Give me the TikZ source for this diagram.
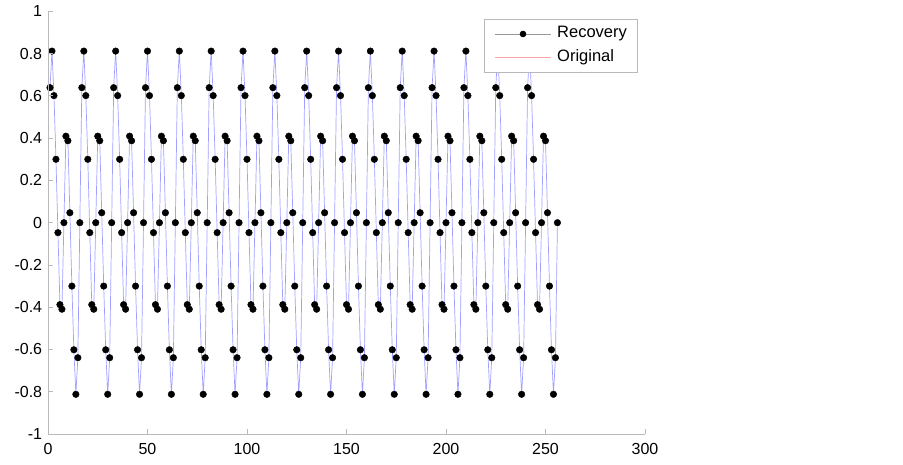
\documentclass[tikz,border=0pt]{standalone}
\usepackage{fontspec}
\setmainfont{Liberation Sans}
\definecolor{axgray}{RGB}{185,185,185}
\definecolor{datablue}{RGB}{160,160,255}
\definecolor{legpink}{RGB}{255,165,165}
\definecolor{leggray}{RGB}{150,150,150}
\begin{document}
\begin{tikzpicture}[x=1pt,y=1pt,
  axisline/.style={draw=axgray, line width=0.9pt},
  ticklab/.style={font=\fontsize{16}{19}\selectfont, inner sep=0pt, text=black},
  dataline/.style={draw=datablue, line width=0.7pt},
  datamark/.style={only marks, mark=*, mark size=3.3pt, mark options={fill=black, draw=black}},
  legbox/.style={draw=axgray, fill=white, line width=0.9pt},
  legtext/.style={font=\fontsize{16.5}{19}\selectfont, inner sep=0pt, anchor=west}]
\useasboundingbox (0,0) rectangle (903,465);
\begin{scope}[shift={(48pt,242.3pt)}, x=1.99pt, y=211.3pt]
  % data
  \draw[dataline] plot[domain=1:256, samples=256]
    (\x, {0.3*sin(22.5*mod(\x,16))+0.6*sin(45*mod(\x,16))+0.1*sin(90*mod(\x,16))});
  \draw plot[datamark, domain=1:256, samples=256]
    (\x, {0.3*sin(22.5*mod(\x,16))+0.6*sin(45*mod(\x,16))+0.1*sin(90*mod(\x,16))});
  % axes
  \coordinate (O) at (0,-1);
  \coordinate (Ytop) at (0,1);
  \coordinate (Xend) at (300,-1);
  \draw[axisline] (Ytop) -- (O) -- (Xend);
  \foreach \v/\t [count=\i] in {1/1, 0.8/0.8, 0.6/0.6, 0.4/0.4, 0.2/0.2, 0/0, -0.2/-0.2, -0.4/-0.4, -0.6/-0.6, -0.8/-0.8, -1/-1}{
    \draw[axisline] (0,\v) -- ++(5pt,0);
    \node[ticklab, anchor=east, xshift=-5.7pt] (yl\i) at (0,\v) {\t};
  }
  \foreach \u [count=\i] in {0,50,100,150,200,250,300}{
    \draw[axisline] (\u,-1) -- ++(0,5pt);
    \node[ticklab, anchor=north, yshift=-9pt] (xl\i) at (\u,-1) {\u};
  }
\end{scope}
% legend
\node[legbox, minimum width=153pt, minimum height=52.4pt, inner sep=0pt, anchor=north west] (leg) at (484.3,445.7) {};
\coordinate (r1) at (495,431);
\coordinate (r2) at (551,431);
\coordinate (o1) at (495,407.7);
\coordinate (o2) at (551,407.7);
\draw[draw=leggray, line width=0.6pt] (r1) -- (r2);
\fill[black] (523,431) circle (3.3pt);
\draw[draw=legpink, line width=1pt] (o1) -- (o2);
\node[legtext] (lrec) at (557,431) {Recovery};
\node[legtext] (lorig) at (557,407.7) {Original};
\end{tikzpicture}
\end{document}
